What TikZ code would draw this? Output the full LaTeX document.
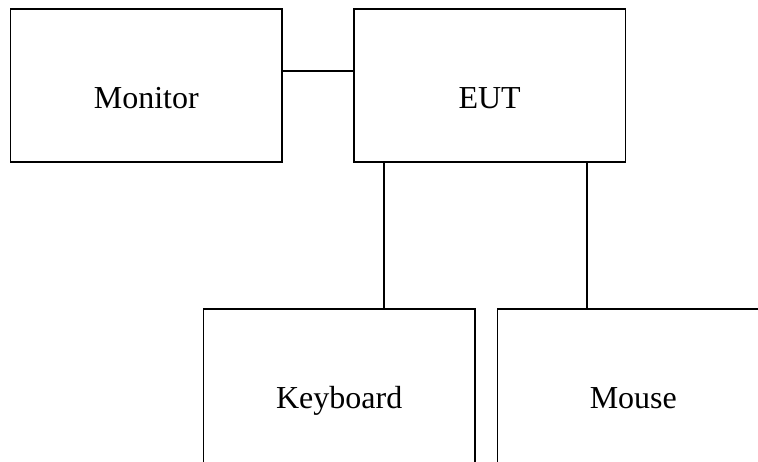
\documentclass[tikz,border=0pt]{standalone}
\usepackage{fontspec}
\setmainfont{Liberation Serif}
\begin{document}
\begin{tikzpicture}[x=1pt,y=-1pt,
  box/.style={draw=black,line width=1.4pt,minimum width=271.5pt,minimum height=153pt,inner sep=0pt,rectangle},
  lowbox/.style={box,minimum height=160pt},
  lbl/.style={anchor=base,inner sep=0pt,font=\fontsize{32pt}{36pt}\selectfont},
  wire/.style={draw=black,line width=1.4pt}]
\useasboundingbox (0,0) rectangle (758,461);
\clip (0,0) rectangle (758,461);
\fill[white] (0,0) rectangle (758,461);
\node[box] (mon) at (146.3,85.5) {};
\node[box] (eut) at (489.6,85.5) {};
\node[lowbox] (kbd) at (339.2,389) {};
\node[lowbox] (mouse) at (633.3,389) {};
\node[lbl] (mont) at ([yshift=-22.5pt]mon.center) {Monitor};
\node[lbl] (eutt) at ([yshift=-22.5pt]eut.center) {EUT};
\node[lbl] (kbdt) at ([yshift=-19pt]kbd.center) {Keyboard};
\node[lbl] (mouset) at ([yshift=-19pt]mouse.center) {Mouse};
\coordinate (cy) at (0,71);
\coordinate (xk) at (384,0);
\coordinate (xm) at (587,0);
\draw[wire] (mon.east |- cy) -- (eut.west |- cy);
\draw[wire] (eut.south -| xk) -- (kbd.north -| xk);
\draw[wire] (eut.south -| xm) -- (mouse.north -| xm);
\end{tikzpicture}
\end{document}
